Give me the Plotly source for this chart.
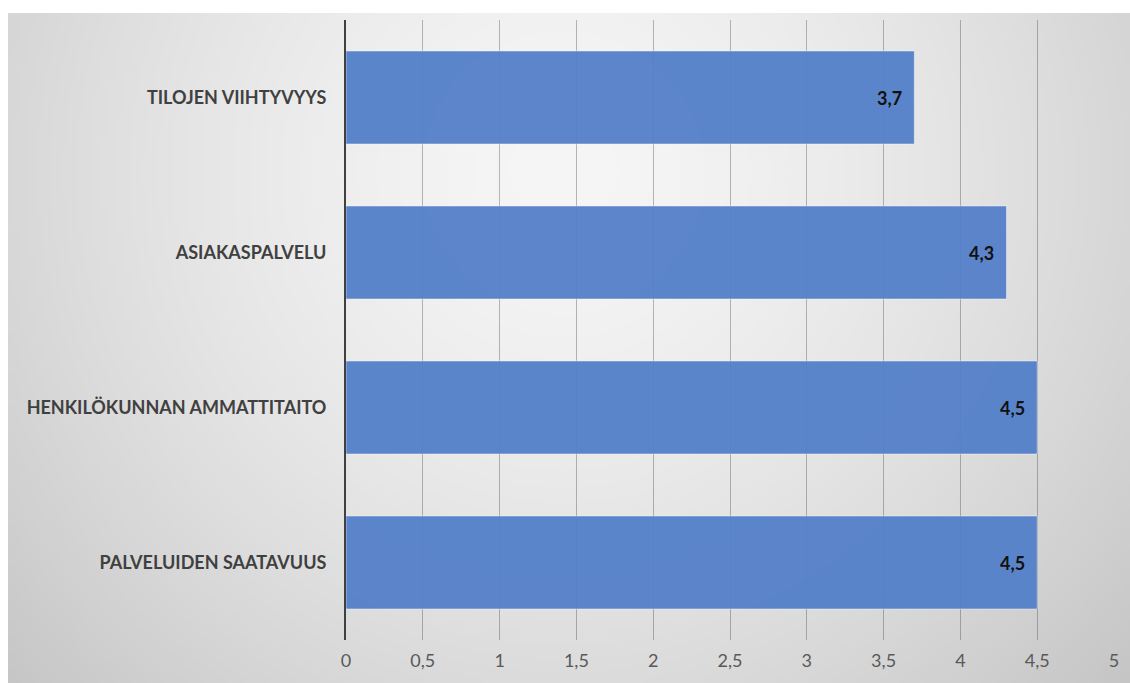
import base64, struct, zlib
import numpy as np
import plotly.graph_objects as go

categories = ["PALVELUIDEN SAATAVUUS", "HENKILÖKUNNAN AMMATTITAITO", "ASIAKASPALVELU", "TILOJEN VIIHTYVYYS"]
values = [4.5, 4.5, 4.3, 3.7]
x_ticks = [0, 0.5, 1, 1.5, 2, 2.5, 3, 3.5, 4, 4.5, 5]
x_tick_labels = ["0", "0,5", "1", "1,5", "2", "2,5", "3", "3,5", "4", "4,5", "5"]

W, H = 1130, 683
ML, MR, MT, MB = 346, 16, 20, 43
PW, PH = W - ML - MR, H - MT - MB

# background radial gradient image
def make_png(arr):
    h, w = arr.shape
    raw = b"".join(b"\x00" + arr[i].astype(np.uint8).tobytes() for i in range(h))
    def chunk(t, d):
        c = struct.pack(">I", len(d)) + t + d
        return c + struct.pack(">I", zlib.crc32(t + d) & 0xffffffff)
    png = b"\x89PNG\r\n\x1a\n"
    png += chunk(b"IHDR", struct.pack(">IIBBBBB", w, h, 8, 0, 0, 0, 0))
    png += chunk(b"IDAT", zlib.compress(raw, 9))
    png += chunk(b"IEND", b"")
    return "data:image/png;base64," + base64.b64encode(png).decode()

bx0, by0 = 8, 13
bw, bh = W - bx0, H - by0
s = 4
gw, gh = bw // s, bh // s
yy, xx = np.mgrid[0:gh, 0:gw]
px = bx0 + xx * s
py = by0 + yy * s
d = np.sqrt((px - 560.0) ** 2 + (py - 170.0) ** 2)
img = 246 - 47 * (d / 743.0) ** 1.5
img = np.clip(img, 0, 255)
bg_uri = make_png(img)

fig = go.Figure()
fig.add_trace(go.Bar(
    y=categories, x=values, orientation="h",
    marker=dict(color="#5480CA", line=dict(color="rgba(255,255,255,0.45)", width=1)),
    opacity=0.95, width=0.6, hoverinfo="skip",
))

for c, v in zip(categories, values):
    fig.add_annotation(x=v, y=c, xref="x", yref="y", text="<b>%s</b>" % str(v).replace(".", ","),
                       showarrow=False, xanchor="right", xshift=-10,
                       font=dict(family="Lato", size=18, color="#111111"))

fig.add_layout_image(dict(
    source=bg_uri, xref="paper", yref="paper",
    x=(bx0 - ML) / PW, y=(H - MB - by0) / PH,
    sizex=bw / PW, sizey=bh / PH,
    xanchor="left", yanchor="top", sizing="stretch", layer="below",
))

fig.update_layout(
    width=W, height=H,
    margin=dict(l=ML, r=MR, t=MT, b=MB, pad=0),
    paper_bgcolor="white", plot_bgcolor="rgba(0,0,0,0)",
    showlegend=False, bargap=0.4,
    xaxis=dict(range=[0, 5], tickvals=x_ticks, ticktext=x_tick_labels,
               showgrid=True, gridcolor="rgba(60,60,60,0.35)", gridwidth=1,
               zeroline=False, showline=False, ticks="",
               tickfont=dict(family="Lato", size=18, color="#595959"),
               ticklabelstandoff=8, fixedrange=True),
    yaxis=dict(showgrid=False, zeroline=False, showline=True, linecolor="#404040", linewidth=2,
               ticks="", tickfont=dict(family="Lato", size=18, color="#404040", weight="bold"),
               ticklabelstandoff=14, fixedrange=True),
)

fig.write_html("out.html")
